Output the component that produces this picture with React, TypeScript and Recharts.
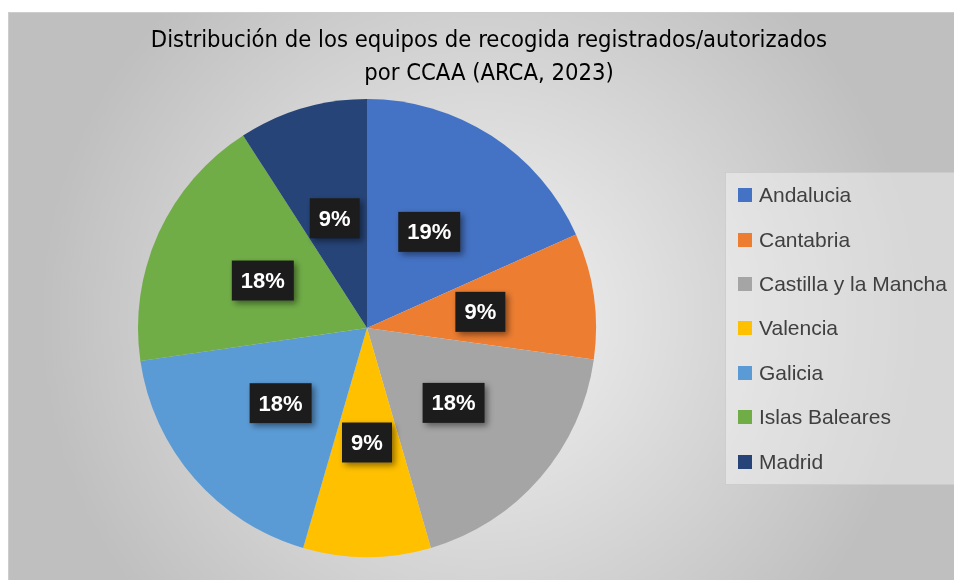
import React from "react";
import { PieChart, Pie, Cell, Legend } from "recharts";

const categories = [
  "Andalucia",
  "Cantabria",
  "Castilla y la Mancha",
  "Valencia",
  "Galicia",
  "Islas Baleares",
  "Madrid",
];
// slice shares
const shares = [18.3, 8.9, 18.3, 9.0, 18.2, 18.2, 9.1];
// percentages printed in the data labels
const labelPercents = [19, 9, 18, 9, 18, 18, 9];
const colors = ["#4472C4", "#ED7D31", "#A5A5A5", "#FFC000", "#5B9BD5", "#70AD47", "#264478"];
const titleLines = [
  "Distribución de los equipos de recogida registrados/autorizados",
  "por CCAA (ARCA, 2023)",
];

const data = categories.map((name, i) => ({ name, value: shares[i], pct: labelPercents[i] }));

const RAD = Math.PI / 180;

const renderLabel = (props: any) => {
  const { cx, cy, midAngle, outerRadius, index } = props;
  const r = outerRadius * 0.5;
  const x = cx + r * Math.cos(-midAngle * RAD);
  const y = cy + r * Math.sin(-midAngle * RAD);
  const text = `${data[index].pct}%`;
  const w = text.length >= 3 ? 62 : 50;
  const h = 40;
  return (
    <g>
      <rect x={x - w / 2} y={y - h / 2} width={w} height={h} fill="#1e1e1e" filter="url(#lblShadow)" />
      <text
        x={x}
        y={y}
        fill="#ffffff"
        textAnchor="middle"
        dominantBaseline="central"
        fontFamily="'Liberation Sans', Arial, sans-serif"
        fontWeight="bold"
        fontSize={22}
      >
        {text}
      </text>
    </g>
  );
};

const LegendBox = () => (
  <div
    style={{
      width: 236,
      height: 313,
      boxSizing: "border-box",
      background: "rgba(255,255,255,0.38)",
      border: "1px solid rgba(200,200,200,0.8)",
      paddingTop: 0,
      paddingLeft: 12,
    }}
  >
    {categories.map((c, i) => (
      <div key={c} style={{ display: "flex", alignItems: "center", height: 44.4 }}>
        <div style={{ width: 14, height: 14, background: colors[i], marginRight: 7 }} />
        <span
          style={{
            fontFamily: "'Liberation Sans', Arial, sans-serif",
            fontSize: 21,
            color: "#404040",
            whiteSpace: "nowrap",
          }}
        >
          {c}
        </span>
      </div>
    ))}
  </div>
);

export default function App() {
  return (
    <div
      style={{
        position: "fixed",
        left: 8,
        top: 12,
        width: 950,
        height: 572,
        boxSizing: "border-box",
        border: "1px solid #cdcdcd",
        background: "radial-gradient(circle 440px at 470px 305px, #f3f3f3 0%, #bfbfbf 100%)",
        overflow: "hidden",
      }}
    >
      <PieChart
        width={948}
        height={570}
        margin={{ top: 0, right: 0, bottom: 0, left: 0 }}
        style={{ position: "absolute", left: 0, top: 0 }}
      >
        <defs>
          <filter id="lblShadow" x="-30%" y="-30%" width="170%" height="170%">
            <feDropShadow dx="3" dy="3" stdDeviation="3" floodColor="#000" floodOpacity="0.45" />
          </filter>
        </defs>
        <text
          x={480}
          y={34}
          textAnchor="middle"
          fontFamily="'DejaVu Sans Condensed', sans-serif"
          fontSize={23.6}
          fill="#000000"
        >
          {titleLines[0]}
        </text>
        <text
          x={480}
          y={67}
          textAnchor="middle"
          fontFamily="'DejaVu Sans Condensed', sans-serif"
          fontSize={23.6}
          fill="#000000"
        >
          {titleLines[1]}
        </text>
        <Pie
          data={data}
          dataKey="value"
          nameKey="name"
          cx={358}
          cy={315}
          outerRadius={229}
          startAngle={90}
          endAngle={-270}
          stroke="none"
          label={renderLabel}
          labelLine={false}
          isAnimationActive={false}
        >
          {data.map((d, i) => (
            <Cell key={d.name} fill={colors[i]} />
          ))}
        </Pie>
        <Legend
          content={() => <LegendBox />}
          wrapperStyle={{ position: "absolute", left: 716, top: 159, width: 236, height: 313 }}
        />
      </PieChart>
    </div>
  );
}
